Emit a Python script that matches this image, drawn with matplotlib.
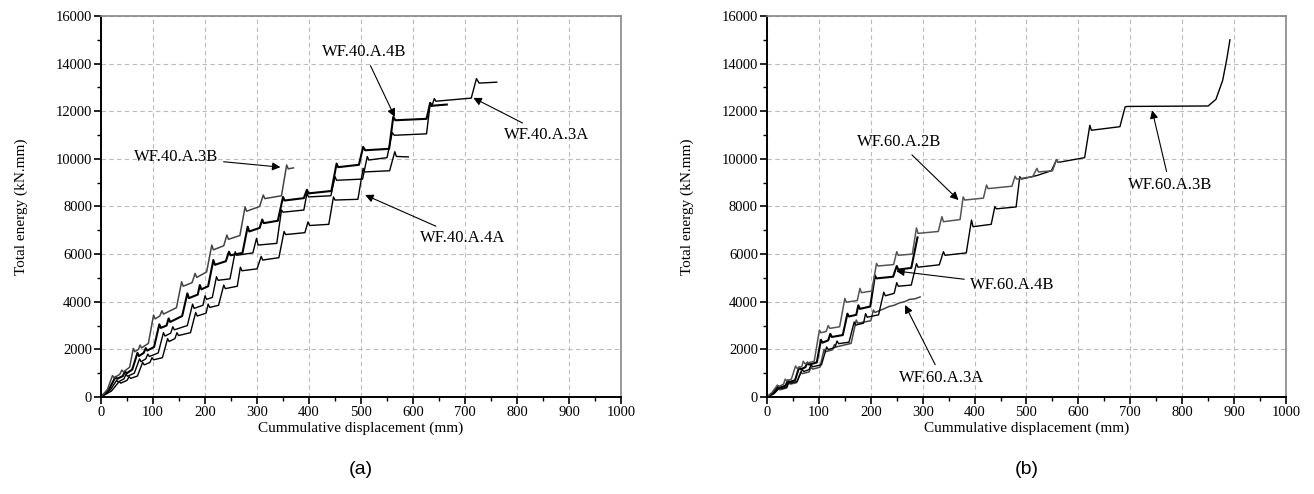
import matplotlib
matplotlib.use('Agg')
import matplotlib.pyplot as plt
from matplotlib.ticker import MultipleLocator

# Datos (desplazamiento acumulado en mm, energía en kN.mm)
# Panel (a)
x_40_3b = [0, 12, 22, 25, 36, 40, 43, 55, 62, 65, 72, 75, 78, 91, 101, 104, 113, 117, 120, 145, 155, 158, 175, 181,
           184, 203, 213, 216, 236, 242, 245, 267, 277, 280, 305, 312, 315, 347, 357, 360, 370]
y_40_3b = [0, 300, 900, 800, 950, 1130, 1050, 1250, 2040, 1900, 2000, 2180, 2060, 2250, 3440, 3280, 3400, 3620, 3480,
           3750, 4840, 4650, 4800, 5190, 5020, 5250, 6380, 6180, 6350, 6800, 6620, 6780, 7980, 7800, 8000, 8480, 8330,
           8450, 9740, 9580, 9620]

x_40_4b = [0, 16, 28, 31, 42, 46, 49, 60, 70, 73, 82, 86, 89, 102, 112, 115, 126, 130, 133, 156, 166, 169, 186, 190,
           193, 206, 216, 219, 240, 246, 249, 272, 282, 285, 305, 310, 313, 340, 350, 353, 390, 396, 399, 443, 453, 456,
           496, 504, 508, 554, 562, 566, 626, 633, 637, 665]
y_40_4b = [0, 350, 850, 760, 880, 1080, 990, 1150, 1850, 1720, 1850, 2050, 1950, 2100, 3050, 2900, 3000, 3300, 3150,
           3400, 4350, 4150, 4300, 4700, 4520, 4650, 5750, 5550, 5700, 6100, 5950, 6050, 7150, 6950, 7100, 7450, 7300,
           7400, 8400, 8250, 8350, 8700, 8550, 8650, 9800, 9650, 9750, 10500, 10360, 10420, 11760, 11620, 11680, 12350,
           12230, 12280]

x_40_3a = [0, 18, 30, 33, 44, 48, 51, 64, 74, 77, 86, 90, 93, 110, 120, 123, 134, 138, 141, 166, 176, 179, 196, 200,
           203, 214, 222, 225, 248, 258, 261, 292, 299, 302, 338, 347, 350, 390, 396, 399, 442, 450, 453, 503, 512, 515,
           550, 560, 564, 626, 633, 636, 641, 644, 712, 722, 727, 761]
y_40_3a = [0, 300, 700, 630, 760, 950, 870, 1000, 1600, 1480, 1600, 1800, 1700, 1850, 2700, 2560, 2680, 2950, 2820,
           3000, 3900, 3720, 3850, 4250, 4100, 4180, 5050, 4900, 4960, 6100, 5950, 6050, 6660, 6380, 6450, 7850, 7760,
           7850, 8550, 8400, 8450, 9250, 9100, 9150, 10100, 9950, 10050, 11100, 10990, 11050, 12320, 12200, 12530,
           12420, 12550, 13370, 13180, 13220]

x_40_4a = [0, 20, 35, 38, 50, 54, 57, 70, 80, 83, 94, 98, 101, 118, 128, 131, 142, 146, 149, 172, 182, 185, 202, 206,
           209, 226, 236, 239, 262, 268, 271, 300, 308, 311, 342, 352, 355, 392, 398, 401, 438, 447, 450, 494, 504, 507,
           555, 565, 568, 591]
y_40_4a = [0, 250, 650, 580, 700, 850, 780, 880, 1450, 1350, 1450, 1650, 1560, 1650, 2450, 2330, 2450, 2700, 2580,
           2700, 3550, 3400, 3520, 3900, 3760, 3850, 4700, 4550, 4650, 5450, 5300, 5380, 5900, 5750, 5850, 6950, 6820,
           6900, 7350, 7200, 7250, 8400, 8270, 8300, 9600, 9450, 9500, 10300, 10100, 10080]

# Panel (b)
x_60_2b = [0, 10, 20, 23, 32, 35, 38, 47, 55, 58, 67, 70, 73, 91, 101, 104, 114, 118, 121, 140, 150, 153, 174, 179,
           182, 202, 211, 214, 244, 250, 253, 280, 288, 291, 330, 337, 340, 372, 378, 381, 417, 423, 426, 472, 478, 481,
           512, 520, 523, 550, 558, 561, 566]
y_60_2b = [0, 200, 500, 440, 540, 750, 680, 750, 1300, 1200, 1280, 1500, 1400, 1500, 2810, 2700, 2750, 3000, 2880,
           2950, 4140, 3980, 4050, 4560, 4380, 4450, 5610, 5500, 5560, 6100, 5950, 6000, 7100, 6870, 6950, 7570, 7360,
           7450, 8400, 8270, 8350, 8900, 8750, 8850, 9270, 9150, 9250, 9600, 9450, 9500, 9970, 9850, 9880]

x_60_3b = [0, 14, 25, 28, 38, 42, 45, 58, 68, 71, 81, 85, 88, 105, 115, 118, 131, 135, 138, 158, 168, 171, 186, 190,
           193, 215, 225, 228, 245, 250, 253, 278, 288, 291, 332, 340, 343, 384, 394, 397, 432, 439, 442, 480, 487, 490,
           520, 548, 558, 561, 612, 622, 625, 680, 690, 694, 850, 865, 878, 886, 892]
y_60_3b = [0, 150, 400, 350, 420, 650, 580, 650, 1150, 1070, 1150, 1350, 1270, 1350, 2100, 1990, 2080, 2350, 2240,
           2300, 3150, 3020, 3100, 3500, 3350, 3450, 4400, 4250, 4350, 4800, 4650, 4700, 5600, 5450, 5550, 6100, 5950,
           6050, 7430, 7150, 7250, 7990, 7900, 7980, 9250, 9150, 9300, 9500, 9970, 9850, 10050, 11410, 11200, 11350,
           12180, 12200, 12220, 12500, 13300, 14200, 15000]

x_60_4b = [0, 12, 22, 25, 36, 40, 43, 54, 62, 65, 74, 78, 81, 96, 104, 107, 118, 122, 125, 146, 155, 158, 172, 176,
           179, 199, 208, 211, 243, 250, 253, 278, 290]
y_60_4b = [0, 180, 450, 390, 480, 700, 630, 700, 1250, 1160, 1250, 1450, 1360, 1450, 2400, 2280, 2380, 2650, 2520,
           2600, 3500, 3380, 3450, 3850, 3700, 3800, 5100, 4980, 5050, 5500, 5350, 5420, 6700]

x_60_3a = [0, 12, 22, 25, 38, 42, 45, 57, 65, 68, 81, 85, 88, 102, 110, 113, 126, 130, 133, 162, 172, 175, 200, 205,
           208, 225, 235, 245, 255, 265, 275, 285, 295]
y_60_3a = [0, 120, 350, 300, 380, 600, 540, 600, 1050, 980, 1050, 1250, 1170, 1250, 2000, 1900, 1980, 2200, 2100,
           2250, 3230, 3100, 3200, 3650, 3550, 3700, 3800, 3850, 3950, 4000, 4100, 4120, 4200]

plt.rcParams['font.family'] = ['Liberation Serif', 'DejaVu Serif']

fig = plt.figure(figsize=(13.14, 4.94), dpi=100)
ax_a = fig.add_axes([0.0769, 0.1964, 0.3957, 0.7713])
ax_b = fig.add_axes([0.5837, 0.1964, 0.3950, 0.7713])

# Curvas de cada panel: (x, y, color, grosor)
curvas_a = [
    (x_40_4a, y_40_4a, 'black', 1.0),
    (x_40_3a, y_40_3a, 'black', 1.0),
    (x_40_4b, y_40_4b, 'black', 1.5),
    (x_40_3b, y_40_3b, '#444444', 1.1),
]
curvas_b = [
    (x_60_3a, y_60_3a, '#444444', 1.1),
    (x_60_3b, y_60_3b, 'black', 1.0),
    (x_60_4b, y_60_4b, 'black', 1.5),
    (x_60_2b, y_60_2b, '#555555', 1.1),
]

# Etiquetas: texto, punta de la flecha, posición del texto
etiquetas_a = [
    ('WF.40.A.3B', (345, 9650), (144, 10070)),
    ('WF.40.A.4B', (565, 11760), (506, 14470)),
    ('WF.40.A.3A', (716, 12560), (856, 11000)),
    ('WF.40.A.4A', (508, 8480), (696, 6670)),
]
etiquetas_b = [
    ('WF.60.A.2B', (369, 8270), (254, 10700)),
    ('WF.60.A.3B', (742, 12040), (776, 8900)),
    ('WF.60.A.4B', (249, 5290), (472, 4700)),
    ('WF.60.A.3A', (266, 3860), (337, 800)),
]


def formato_eje(ax):
    ax.set_xlim(0, 1000)
    ax.set_ylim(0, 16000)
    ax.xaxis.set_major_locator(MultipleLocator(100))
    ax.xaxis.set_minor_locator(MultipleLocator(50))
    ax.yaxis.set_major_locator(MultipleLocator(2000))
    ax.yaxis.set_minor_locator(MultipleLocator(1000))
    ax.tick_params(which='major', direction='out', length=5, width=1.2, labelsize=10.5, pad=1.5)
    ax.tick_params(which='minor', direction='out', length=3, width=1.0)
    ax.grid(True, which='major', color='#bbbbbb', linestyle=(0, (4, 3)), linewidth=0.8)
    ax.set_axisbelow(True)
    for lado in ['left', 'bottom']:
        ax.spines[lado].set_linewidth(1.4)
    for lado in ['top', 'right']:
        ax.spines[lado].set_color('#888888')
        ax.spines[lado].set_linewidth(1.2)
    ax.set_xlabel('Cummulative displacement (mm)', fontsize=11, labelpad=2)
    ax.set_ylabel('Total energy (kN.mm)', fontsize=11, labelpad=20)


for ax, curvas, etiquetas in [(ax_a, curvas_a, etiquetas_a), (ax_b, curvas_b, etiquetas_b)]:
    formato_eje(ax)
    for x, y, color, grosor in curvas:
        ax.plot(x, y, color=color, linewidth=grosor, solid_joinstyle='round')
    for texto, punta, pos in etiquetas:
        ax.annotate(texto, xy=punta, xytext=pos, fontsize=12, ha='center', va='center',
                    arrowprops=dict(arrowstyle='-|>', color='black', lw=0.8, mutation_scale=12,
                                    shrinkA=2, shrinkB=0))

fig.text(0.2747, 0.0486, '(a)', fontsize=14, family='Liberation Sans', ha='center', va='center')
fig.text(0.7812, 0.0486, '(b)', fontsize=14, family='Liberation Sans', ha='center', va='center')

fig.savefig('out.png', dpi=100)
